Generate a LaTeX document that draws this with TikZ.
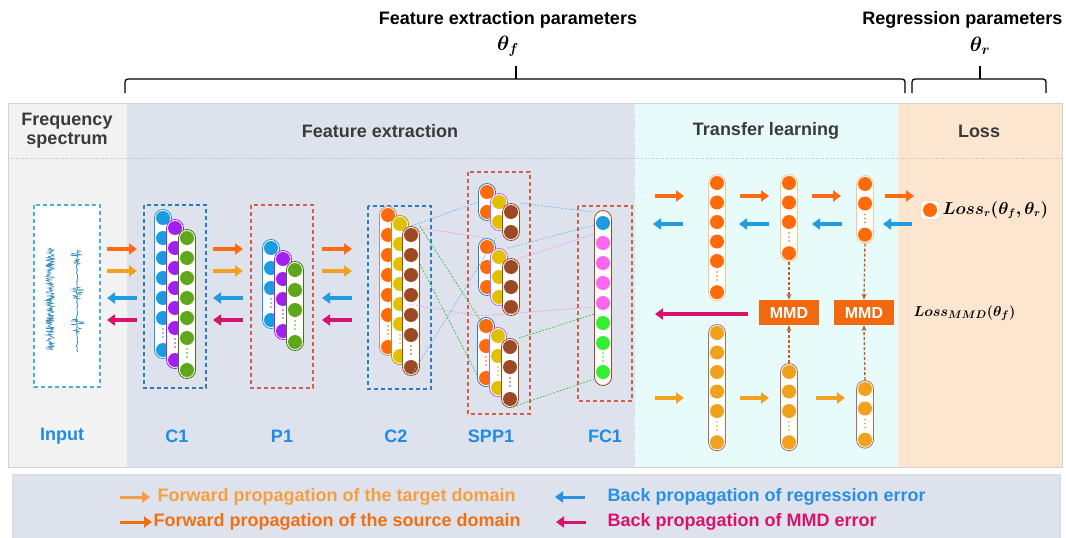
\documentclass[tikz,border=0pt]{standalone}
\usepackage{fontspec}
\setmainfont{Liberation Sans}
\usepackage{bm}
\usetikzlibrary{arrows.meta}

\definecolor{nblue}{HTML}{1C9BE0}
\definecolor{npurple}{HTML}{A020F0}
\definecolor{ngreen}{HTML}{5FA61C}
\definecolor{norange}{HTML}{FF6A0A}
\definecolor{nyellow}{HTML}{E0C000}
\definecolor{nbrown}{HTML}{9C4A25}
\definecolor{npink}{HTML}{FF66EE}
\definecolor{nlime}{HTML}{33EE33}
\definecolor{ntarget}{HTML}{F0A21E}
\definecolor{srcarrow}{HTML}{FF6A13}
\definecolor{tgtarrow}{HTML}{F2A11F}
\definecolor{regarrow}{HTML}{1F9DE0}
\definecolor{mmdarrow}{HTML}{D8136E}
\definecolor{mmdfill}{HTML}{F2680E}
\definecolor{mmdline}{HTML}{C0602A}
\definecolor{labelblue}{HTML}{1E8CE6}
\definecolor{headgray}{HTML}{3A3A3A}
\definecolor{panelgray}{HTML}{F2F2F2}
\definecolor{panelblue}{HTML}{DEE2EC}
\definecolor{panelcyan}{HTML}{E6FBFA}
\definecolor{panelpeach}{HTML}{FDE6CF}
\definecolor{boxblue}{HTML}{2A7FC0}
\definecolor{boxred}{HTML}{D0604A}
\definecolor{spec}{HTML}{3A8FC0}
\definecolor{legtgt}{HTML}{F5A040}
\definecolor{legsrc}{HTML}{F07010}
\definecolor{legreg}{HTML}{2A90E0}

\tikzset{
  capsule/.style={rectangle, fill=white, line width=0.8pt, minimum width=17pt, inner sep=0pt, rounded corners=8.5pt},
  flowarrow/.style={line width=3.6pt, -{Triangle[length=8pt,width=11pt]}},
  layerbox/.style={line width=1.2pt, dash pattern=on 4pt off 3pt},
  head/.style={font=\fontsize{18}{20}\selectfont\bfseries, text=headgray, align=center},
  lab/.style={font=\fontsize{18}{20}\selectfont\bfseries, text=labelblue},
  toptxt/.style={font=\fontsize{18}{20}\selectfont\bfseries},
  legendtxt/.style={font=\fontsize{18}{20}\selectfont\bfseries, anchor=west},
  brace/.style={line width=1.3pt, rounded corners=3pt},
  mmd/.style={fill=mmdfill, text=white, minimum width=60pt, minimum height=25pt, inner sep=0pt, font=\fontsize{16}{18}\selectfont\bfseries},
  mmdlink/.style={draw=mmdline, line width=1.4pt, dash pattern=on 3pt off 2pt, -{Stealth[length=6pt,width=5pt]}},
  link/.style={line width=0.6pt, dash pattern=on 2pt off 1.5pt},
}

% name, x, y of first circle, circles, fill, outline, tail (1 = dots + last circle), spacing
\newcommand{\nlayer}[8]{%
  \pgfmathsetmacro{\yprev}{#3+#8*(#4-1)}%
  \pgfmathsetmacro{\ylast}{\yprev+#7*1.6*#8}%
  \pgfmathsetmacro{\hcap}{\ylast-#3+17}%
  \pgfmathsetmacro{\ymid}{(#3+\ylast)/2}%
  \node[capsule, draw=#6, minimum height=\hcap pt] (#1) at (#2,\ymid) {};
  \foreach \k in {1,...,#4} \fill[#5] (#2,{#3+#8*(\k-1)}) circle (7pt);
  \ifnum#7=1
    \draw[#5, line width=1.8pt, line cap=round, dash pattern=on 0pt off 4pt] (#2,\yprev+11) -- (#2,\ylast-10);
    \fill[#5] (#2,\ylast) circle (7pt);
  \fi
}
% colour, x from, x to, y
\newcommand{\flow}[4]{\draw[flowarrow, #1] (#2,#4) -- (#3,#4);}

\begin{document}
\begin{tikzpicture}[x=1pt, y=-1pt]
\useasboundingbox (0,0) rectangle (1066,538);
\fill[white] (0,0) rectangle (1066,538);

% parameter braces
\node[toptxt] (fepar) at (508,20) {Feature extraction parameters};
\node[toptxt, anchor=east] (repar) at (1066,20) {Regression parameters};
\node[font=\fontsize{21}{24}\selectfont] (thf) at (508,46) {$\bm{\theta_f}$};
\node[font=\fontsize{21}{24}\selectfont] (thr) at (980,46) {$\bm{\theta_r}$};
\draw[brace] (125,93) |- (905,79) -- (905,93);
\draw[brace] (516,79) -- (516,66);
\draw[brace] (912,93) |- (1046,79) -- (1046,93);
\draw[brace] (980,79) -- (980,66);

% panels
\fill[panelgray] (8,103) rectangle (127,467);
\fill[panelblue] (127,103) rectangle (634,467);
\fill[panelcyan] (634,103) rectangle (898,467);
\fill[panelpeach] (898,103) rectangle (1062,467);
\draw[gray!35, line width=0.5pt] (8,103) rectangle (1062,467);
\draw[gray!50, dotted, line width=0.5pt] (8,158) -- (1062,158);
\draw[gray!40, dotted] (634,103) -- (634,467);

\node[head] (hfs) at (67,131) {Frequency\\[-1pt]spectrum};
\node[head] (hfe) at (380,131) {Feature extraction};
\node[head] (htl) at (766,131) {Transfer learning};
\node[head] (hlo) at (979,131) {Loss};

% input spectrum
\draw[layerbox, draw=nblue!80, fill=white] (34,205) rectangle (100,387);
\pgfmathsetseed{7}
\draw[spec, line width=0.5pt] (50,248) \foreach \i in {1,...,204} {-- ({50+4.2*rand},{248+0.5*\i})};
\draw[spec, line width=0.8pt] (77,250) \foreach \i in {1,...,51} {-- ({77+0.8*rand},{250+2*\i})};
\foreach \s/\w in {253/8,262/5,290/7,296/5,322/8,330/4}
  \draw[spec, line width=0.4pt] (77,\s-3) \foreach \j in {1,...,12} {-- ({77+\w*rand},{\s-3+0.5*\j})};

% C1
\draw[layerbox, draw=boxblue] (144,205) rectangle (206,388);
\nlayer{c1a}{163}{218}{6}{nblue}{nblue}{1}{20}
\nlayer{c1b}{175}{228}{6}{npurple}{npurple}{1}{20}
\nlayer{c1c}{187}{238}{6}{ngreen}{ngreen!70!black}{1}{20}

% P1
\draw[layerbox, draw=boxred] (251,205) rectangle (313,388);
\nlayer{p1a}{271}{248}{3}{nblue}{nblue}{1}{20}
\nlayer{p1b}{283}{259}{3}{npurple}{npurple}{1}{20}
\nlayer{p1c}{295}{270}{3}{ngreen}{ngreen!70!black}{1}{20}

% C2
\draw[layerbox, draw=boxblue] (368,206) rectangle (431,389);
\nlayer{c2a}{388}{215}{6}{norange}{nbrown!60}{1}{20}
\nlayer{c2b}{400}{224}{6}{nyellow}{nyellow!80!black}{1}{20}
\nlayer{c2c}{411}{235}{6}{nbrown}{nbrown}{1}{20}

% SPP1
\draw[layerbox, draw=boxred] (468,172) rectangle (530,414);
\nlayer{spA1}{487}{192}{2}{norange}{boxblue}{0}{20}
\nlayer{spA2}{499}{202}{2}{nyellow}{npurple!70}{0}{20}
\nlayer{spA3}{511}{212}{2}{nbrown}{nbrown}{0}{20}
\nlayer{spB1}{487}{247}{3}{norange}{boxblue}{0}{20}
\nlayer{spB2}{499}{257}{3}{nyellow}{npurple!70}{0}{20}
\nlayer{spB3}{511}{267}{3}{nbrown}{nbrown}{0}{20}
\nlayer{spC1}{486}{326}{2}{norange}{boxblue}{1}{20}
\nlayer{spC2}{498}{336}{2}{nyellow}{npurple!70}{1}{20}
\nlayer{spC3}{510}{347}{2}{nbrown}{nbrown}{1}{20}

% FC1
\draw[layerbox, draw=boxred] (578,206) rectangle (632,401);
\node[capsule, draw=nbrown, minimum height=175pt] (fc1) at (603,298) {};
\foreach \c [count=\k from 0] in {nblue,npink,npink,npink,npink,nlime,nlime}
  \fill[\c] (603,223+20*\k) circle (7pt);
\draw[nlime, line width=1.8pt, line cap=round, dash pattern=on 0pt off 4pt] (603,353) -- (603,362);
\fill[nlime] (603,372) circle (7pt);

% links between C2, SPP1 and FC1
\draw[link, nblue!70] (c2c.north) -- (spA1.west);
\draw[link, nblue!70] (spA3.north east) -- ([yshift=-2pt]fc1.north west);
\draw[link, nblue!70] (c2c.south) -- (spB1.north east);
\draw[link, nblue!70] (spB2.north east) -- ([yshift=-15pt]fc1.north west);
\draw[link, npink!80] ([yshift=-2pt]c2c.north east) -- (spB1.north);
\draw[link, npink!80] (spB3.north east) -- ([yshift=-24pt]fc1.north west);
\draw[link, npink!80] ([yshift=-14pt]c2b.east) -- ([yshift=-20pt]spB1.south west) -- ([yshift=-97pt]fc1.north west);
\draw[link, nlime!80!black] (c2c.north east) -- ([yshift=-12pt]spC1.north);
\draw[link, nlime!80!black] ([yshift=-38pt]c2c.north east) -- ([yshift=12pt]spC1.south west);
\draw[link, nlime!80!black] (spC3.north east) -- ([yshift=-104pt]fc1.north west);
\draw[link, nlime!80!black] (spC3.south) -- ([yshift=-169pt]fc1.north west);

% flow arrows between layers
\foreach \xa/\xb in {107/137, 213/243, 322/352} {
  \flow{srcarrow}{\xa}{\xb}{249}
  \flow{tgtarrow}{\xa}{\xb}{271}
  \flow{regarrow}{\xb}{\xa}{298}
  \flow{mmdarrow}{\xb}{\xa}{320}
}

% transfer learning: source (top) and target (bottom) branches
\nlayer{s1}{717}{183}{5}{norange}{orange!45}{1}{19.5}
\nlayer{s2}{789}{183}{3}{norange}{orange!45}{1}{19.5}
\nlayer{s3}{865}{184}{2}{norange}{orange!45}{1}{19.5}
\nlayer{t1}{717}{333}{5}{ntarget}{nbrown!80}{1}{19.5}
\nlayer{t2}{789}{372}{3}{ntarget}{nbrown!80}{1}{19.5}
\nlayer{t3}{865}{389}{2}{ntarget}{nbrown!80}{1}{19.5}

\node[mmd] (mmd1) at (789,312.5) {MMD};
\node[mmd] (mmd2) at (864,312.5) {MMD};
\draw[mmdlink] (s2.south) -- (mmd1.north);
\draw[mmdlink] (s3.south) -- (mmd2.north);
\draw[mmdlink] (t2.north) -- (mmd1.south);
\draw[mmdlink] (t3.north) -- (mmd2.south);

\flow{srcarrow}{655}{684}{196}
\flow{srcarrow}{740}{769}{196}
\flow{srcarrow}{812}{841}{196}
\flow{srcarrow}{885}{914}{196}
\flow{regarrow}{683}{653}{224}
\flow{regarrow}{769}{739}{224}
\flow{regarrow}{842}{812}{224}
\flow{regarrow}{912}{883}{224}
\flow{tgtarrow}{655}{684}{398}
\flow{tgtarrow}{740}{769}{398}
\flow{tgtarrow}{816}{845}{398}
\flow{mmdarrow}{748}{655}{314}

% loss terms
\node[draw=orange!55, fill=white, rounded corners=2pt, minimum size=18pt, inner sep=0pt] (lossbox) at (930,210) {};
\fill[norange] (lossbox) circle (7pt);
\node[anchor=west, font=\fontsize{16}{18}\selectfont] (lossr) at (939,210) {$\bm{Loss_r(\theta_f,\theta_r)}$};
\node[anchor=west, font=\fontsize{15.5}{18}\selectfont] (lossm) at (910,313) {$\bm{Loss_{MMD}(\theta_f)}$};

% layer labels
\node[lab] (lin) at (62,436) {Input};
\node[lab] (lc1) at (177,436) {C1};
\node[lab] (lp1) at (282,436) {P1};
\node[lab] (lc2) at (396,436) {C2};
\node[lab] (lspp) at (491,436) {SPP1};
\node[lab] (lfc) at (605,436) {FC1};

% legend
\fill[panelblue] (12,474) rectangle (1060,538);
\draw[gray!30, line width=0.5pt] (12,474) rectangle (1060,538);
\flow{legtgt, line width=3pt}{120}{150}{497}
\node[legendtxt, text=legtgt] (lg1) at (154,497) {Forward propagation of the target domain};
\flow{legsrc, line width=3pt}{120}{152}{522}
\node[legendtxt, text=legsrc] (lg2) at (150,522) {Forward propagation of the source domain};
\flow{legreg, line width=3pt}{585}{555}{497}
\node[legendtxt, text=legreg] (lg3) at (604,497) {Back propagation of regression error};
\flow{mmdarrow, line width=3pt}{586}{556}{522}
\node[legendtxt, text=mmdarrow] (lg4) at (604,522) {Back propagation of MMD error};
\end{tikzpicture}
\end{document}
